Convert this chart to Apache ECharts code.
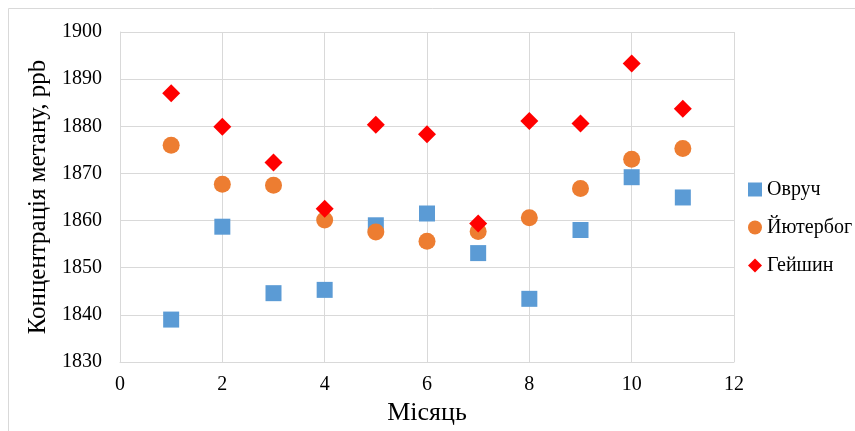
<!DOCTYPE html>
<html>
<head>
<meta charset="utf-8">
<script src="https://cdn.jsdelivr.net/npm/echarts@6/dist/echarts.min.js"></script>
<style>html,body{margin:0;padding:0;background:#fff}#c{width:855px;height:431px}</style>
</head>
<body>
<div id="c"></div>
<script>
var months = [1, 2, 3, 4, 5, 6, 7, 8, 9, 10, 11];
var ovruch = [1839.0, 1858.7, 1844.6, 1845.3, 1859.0, 1861.5, 1853.1, 1843.4, 1858.0, 1869.2, 1864.9];
var juterbog = [1876.0, 1867.7, 1867.5, 1860.1, 1857.6, 1855.6, 1857.7, 1860.6, 1866.8, 1873.0, 1875.3];
var heishyn = [1887.0, 1879.9, 1872.3, 1862.5, 1880.3, 1878.3, 1859.4, 1881.1, 1880.6, 1893.3, 1883.7];
var seriesNames = ['Овруч', 'Йютербог', 'Гейшин'];

function pairs(xs, ys) { return xs.map(function (x, i) { return [x, ys[i]]; }); }

var font = '"Liberation Serif", "Times New Roman", serif';
var chart = echarts.init(document.getElementById('c'), null, { renderer: 'canvas' });
chart.setOption({
  animation: false,
  backgroundColor: '#fff',
  textStyle: { fontFamily: font, color: '#000' },
  graphic: [{
    type: 'rect', shape: { x: 8.5, y: 8.5, width: 900, height: 500 },
    style: { fill: 'none', stroke: '#D9D9D9', lineWidth: 1 }, silent: true, z: -1
  }],
  grid: { left: 120, right: 121, top: 32, bottom: 68, containLabel: false },
  xAxis: {
    type: 'value', min: 0, max: 12, interval: 2,
    name: 'Місяць', nameLocation: 'middle', nameGap: 38,
    nameTextStyle: { fontFamily: font, fontSize: 26, color: '#000' },
    axisLine: { show: true, lineStyle: { color: '#D9D9D9' } },
    axisTick: { show: false },
    axisLabel: { margin: 13, fontFamily: font, fontSize: 20, color: '#000',
      formatter: function (v) { return String(v); } },
    splitLine: { show: true, lineStyle: { color: '#D9D9D9' } }
  },
  yAxis: {
    type: 'value', min: 1830, max: 1900, interval: 10,
    name: 'Концентрація метану, ppb', nameLocation: 'middle', nameGap: 68,
    nameTextStyle: { fontFamily: font, fontSize: 25, color: '#000' },
    axisLine: { show: true, lineStyle: { color: '#D9D9D9' } },
    axisTick: { show: false },
    axisLabel: { margin: 18, fontFamily: font, fontSize: 20, color: '#000',
      formatter: function (v) { return String(v); } },
    splitLine: { show: true, lineStyle: { color: '#D9D9D9' } }
  },
  legend: {
    orient: 'vertical', left: 743, top: 174,
    itemWidth: 14, itemHeight: 14, itemGap: 17, itemTextGap: 4,
    textStyle: { fontFamily: font, fontSize: 20, color: '#000', lineHeight: 21 },
    data: seriesNames
  },
  series: [
    { name: seriesNames[0], type: 'scatter', symbol: 'rect', symbolSize: 16,
      itemStyle: { color: '#5B9BD5', opacity: 1 }, data: pairs(months, ovruch) },
    { name: seriesNames[1], type: 'scatter', symbol: 'circle', symbolSize: 17,
      itemStyle: { color: '#ED7D31', opacity: 1 }, data: pairs(months, juterbog) },
    { name: seriesNames[2], type: 'scatter', symbol: 'diamond', symbolSize: 18,
      itemStyle: { color: '#FF0000', opacity: 1 }, data: pairs(months, heishyn) }
  ]
});
</script>
</body>
</html>
